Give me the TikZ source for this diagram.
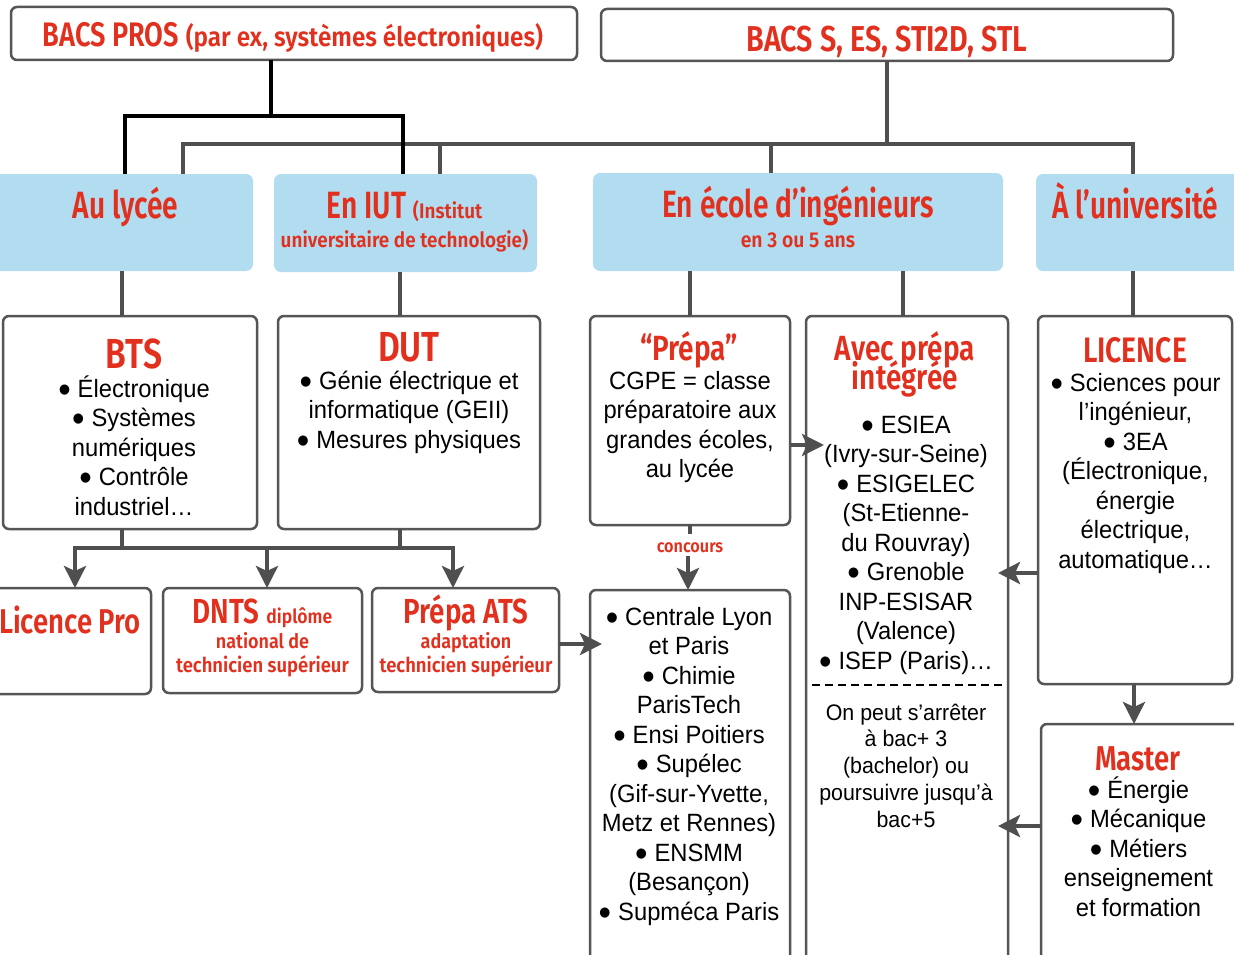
\documentclass[tikz,border=0pt]{standalone}
\usepackage{fontspec}
\setmainfont{Liberation Sans}
\newfontfamily\hf[FakeStretch=0.80]{Fira Sans SemiBold}
\newfontfamily\hfn[FakeStretch=0.74]{Fira Sans SemiBold}
\newfontfamily\hfw[FakeStretch=0.90]{Fira Sans SemiBold}
\newfontfamily\bodyf[FakeStretch=0.95]{Liberation Sans}
\usetikzlibrary{arrows.meta}
\definecolor{rd}{HTML}{E2301F}
\definecolor{bl}{HTML}{B2DCEF}
\definecolor{gr}{HTML}{555555}
\definecolor{cn}{HTML}{4F4F4F}
\tikzset{
 box/.style={draw=gr, line width=2.5pt, fill=white, rounded corners=6pt, inner sep=0pt, outer sep=0pt},
 bbox/.style={fill=bl, rounded corners=7pt, inner sep=0pt, outer sep=0pt},
 conn/.style={draw=cn, line width=4pt},
 blk/.style={draw=black, line width=4pt},
 arr/.style={conn, -{Stealth[length=22pt,width=22pt,inset=5pt]}},
 ttl/.style={text=rd, inner sep=0pt, anchor=base, font=\hf},
 body/.style={inner sep=0pt, anchor=north, align=center, font=\bodyf\fontsize{25}{29.5}\selectfont},
 note/.style={inner sep=0pt, anchor=north, align=center, font=\bodyf\fontsize{22.5}{26.7}\selectfont},
}
\newcommand{\fs}[1]{\fontsize{#1}{#1}\selectfont}
\newcommand{\bu}{\raisebox{-0.2em}{\scalebox{1.5}{•}}\hspace{7pt}}
\begin{document}
\begin{tikzpicture}[x=1pt,y=-1pt]
\useasboundingbox (0,0) rectangle (1234,955);
\clip (0,0) rectangle (1234,955);
\fill[white] (0,0) rectangle (1234,955);
% top boxes
\node[box, minimum width=566, minimum height=53] (bacspro) at (294,33.5) {};
\node[box, minimum width=572, minimum height=52] (bacss) at (887,35) {};
% blue boxes
\node[bbox, minimum width=263, minimum height=97] (lycee) at (121.5,222.5) {};
\node[bbox, minimum width=263, minimum height=98] (iut) at (405.5,223) {};
\node[bbox, minimum width=410, minimum height=98] (ecole) at (798,222) {};
\node[bbox, minimum width=204, minimum height=97] (univ) at (1138,222.5) {};
% white boxes
\node[box, minimum width=254, minimum height=213] (bts) at (130,422.5) {};
\node[box, minimum width=262, minimum height=213] (dut) at (409,422.5) {};
\node[box, minimum width=200, minimum height=209] (prepa) at (690,420.5) {};
\node[box, minimum width=202, minimum height=654] (integ) at (907,643) {};
\node[box, minimum width=194, minimum height=368] (licence) at (1135,500) {};
\node[box, minimum width=200, minimum height=380] (cent) at (690,780) {};
\node[box, minimum width=199, minimum height=246] (master) at (1140.5,847) {};
\node[box, minimum width=171, minimum height=106] (lpro) at (65.5,641) {};
\node[box, minimum width=199, minimum height=105] (dnts) at (262.5,640.5) {};
\node[box, minimum width=187, minimum height=104] (ats) at (465.5,640) {};
% dashed separator
\draw[black, line width=2.5pt, dash pattern=on 8pt off 5pt] (812,685) -- (1004,685);
% titles
\node[ttl] (t1) at (293,47) {\fs{34}BACS PROS \hfw\fs{27}(par ex, systèmes électroniques)};
\node[ttl] (t2) at (887,52) {\fs{36}BACS S, ES, STI2D, STL};
\node[ttl, font=\hfn] (t3) at (125.5,218) {\fs{38}Au lycée};
\node[ttl, font=\hfn] (t4) at (404.5,218) {\fs{38}En IUT \hfw\fs{21}(Institut};
\node[ttl, font=\hfw] (t5) at (404.5,247) {\fs{21}universitaire de technologie)};
\node[ttl, font=\hfn] (t6) at (798,217) {\fs{38}En école d’ingénieurs};
\node[ttl, font=\hfw] (t7) at (798,247) {\fs{21.5}en 3 ou 5 ans};
\node[ttl, font=\hfn] (t8) at (1135,218) {\fs{38}À l’université};
\node[ttl] (t9) at (134,368) {\fs{42}BTS};
\node[ttl] (t10) at (409,361) {\fs{42}DUT};
\node[ttl] (t11) at (689,360) {\fs{35}“Prépa”};
\node[ttl] (t12) at (905,360) {\fs{35}Avec prépa};
\node[ttl] (t13) at (905,389) {\fs{35}intégrée};
\node[ttl] (t14) at (1135,362) {\fs{35.4}LICENCE};
\node[ttl] (t15) at (1138,770) {\fs{34.5}Master};
\node[ttl] (t16) at (70,633) {\fs{34.4}Licence Pro};
\node[ttl] (t17) at (262.5,623) {\fs{34.8}DNTS \hfw\fs{19.5}diplôme};
\node[ttl, font=\hfw] (t18) at (262.5,648) {\fs{20}national de};
\node[ttl, font=\hfw] (t19) at (262.5,672) {\fs{20.5}technicien supérieur};
\node[ttl] (t20) at (466,623) {\fs{34.8}Prépa ATS};
\node[ttl, font=\hfw] (t21) at (466,648) {\fs{20}adaptation};
\node[ttl, font=\hfw] (t22) at (466,672) {\fs{20.5}technicien supérieur};
\node[ttl, font=\hfw] (tconc) at (690,552) {\fs{18}concours};
% bodies
\node[body] (b1) at (134,373) {\rule{0pt}{24pt}\bu Électronique\\\bu Systèmes\\numériques\\\bu Contrôle\\industriel…};
\node[body] (b2) at (409,365) {\rule{0pt}{24pt}\bu Génie électrique et\\informatique (GEII)\\\bu Mesures physiques};
\node[body] (b3) at (690,365) {\rule{0pt}{24pt}CGPE = classe\\préparatoire aux\\grandes écoles,\\au lycée};
\node[body] (b4) at (906,409) {\rule{0pt}{24pt}\bu ESIEA\\(Ivry-sur-Seine)\\\bu ESIGELEC\\(St-Etienne-\\du Rouvray)\\\bu Grenoble\\INP-ESISAR\\(Valence)\\\bu ISEP (Paris)…};
\node[note] (b5) at (906,698) {\rule{0pt}{22pt}On peut s’arrêter\\à bac+ 3\\(bachelor) ou\\poursuivre jusqu’à\\bac+5};
\node[body] (b6) at (1135.5,367) {\rule{0pt}{24pt}\bu Sciences pour\\l’ingénieur,\\\bu 3EA\\(Électronique,\\énergie\\électrique,\\automatique…};
\node[body] (b7) at (689,601) {\rule{0pt}{24pt}\bu Centrale Lyon\\et Paris\\\bu Chimie\\ParisTech\\\bu Ensi Poitiers\\\bu Supélec\\(Gif-sur-Yvette,\\Metz et Rennes)\\\bu ENSMM\\(Besançon)\\\bu Supméca Paris};
\node[body] (b8) at (1138.5,774) {\rule{0pt}{24pt}\bu Énergie\\\bu Mécanique\\\bu Métiers\\enseignement\\et formation};
% top connectors (gray first, then black)
\coordinate (g0) at (887,144);
\coordinate (ga) at (183,144);
\coordinate (gb) at (440,144);
\coordinate (gc) at (771,144);
\coordinate (gd) at (1133,144);
\draw[conn] (bacss.south -| g0) -- (g0);
\draw[conn] (lycee.north -| ga) -- (ga) -- (gd) -- (univ.north -| gd);
\draw[conn] (gb) -- (iut.north -| gb);
\draw[conn] (gc) -- (ecole.north -| gc);
\coordinate (k0) at (271,116);
\coordinate (k1) at (125,116);
\coordinate (k2) at (403,116);
\draw[blk] (bacspro.south -| k0) -- (k0);
\draw[blk] (lycee.north -| k1) -- (k1) -- (k2) -- (iut.north -| k2);
% blue to white boxes
\draw[conn] (lycee.south -| 122,0) -- (bts.north -| 122,0);
\draw[conn] (iut.south -| 400,0) -- (dut.north -| 400,0);
\draw[conn] (ecole.south -| 690,0) -- (prepa.north);
\draw[conn] (ecole.south -| 903,0) -- (integ.north -| 903,0);
\draw[conn] (univ.south -| 1133,0) -- (licence.north -| 1133,0);
% BTS / DUT to next
\coordinate (j1) at (122,548);
\coordinate (j2) at (400,548);
\coordinate (jl) at (75,548);
\coordinate (jm) at (267,548);
\coordinate (jr) at (453,548);
\draw[conn] (bts.south -| j1) -- (j1);
\draw[conn] (dut.south -| j2) -- (j2);
\draw[conn] ([xshift=-2pt]jl) -- ([xshift=2pt]jr);
\draw[arr] (jl) -- (lpro.north -| jl);
\draw[arr] (jm) -- (dnts.north -| jm);
\draw[arr] (jr) -- (ats.north -| jr);
% concours
\draw[conn] (prepa.south) -- ++(0,9);
\draw[arr] ([yshift=-4pt]tconc.south -| 688,0) -- (cent.north -| 688,0);
% side arrows
\coordinate (a1) at (602,644);
\coordinate (a2) at (824,445);
\coordinate (a3) at (998,573);
\coordinate (a4) at (998,826);
\coordinate (a5) at (1134,0);
\draw[arr] (ats.east |- a1) -- (a1);
\draw[arr] (prepa.east |- a2) -- (a2);
\draw[arr] (licence.west |- a3) -- (a3);
\draw[arr] (master.west |- a4) -- (a4);
\draw[arr] (licence.south -| a5) -- (master.north -| a5);
\end{tikzpicture}
\end{document}
